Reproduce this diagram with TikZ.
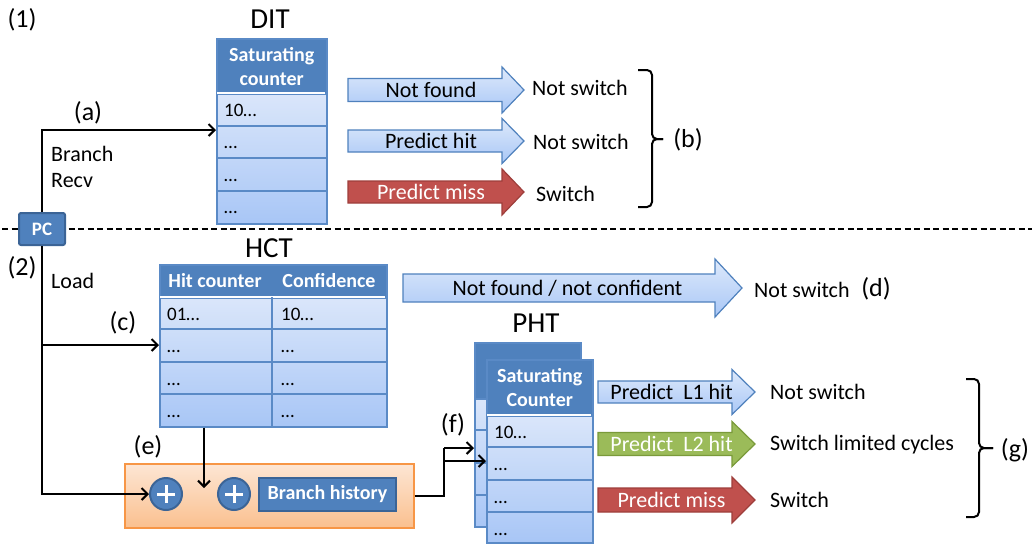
\documentclass[tikz,border=0pt]{standalone}
\usepackage{fontspec}
\setmainfont{Carlito}
\usetikzlibrary{arrows.meta}

\definecolor{hdrblue}{HTML}{4F81BD}
\definecolor{hdredge}{HTML}{3B6496}
\definecolor{tline}{HTML}{5A8AC6}
\definecolor{rowtop}{HTML}{DAE6FA}
\definecolor{rowbot}{HTML}{A8C6F6}
\definecolor{arrtop}{HTML}{DDE9FB}
\definecolor{arrbot}{HTML}{A9C7F6}
\definecolor{missred}{HTML}{C0504D}
\definecolor{missedge}{HTML}{9E3E3B}
\definecolor{hitgreen}{HTML}{9BBB59}
\definecolor{greenedge}{HTML}{7A9A3A}
\definecolor{orangeedge}{HTML}{F79646}
\definecolor{orangetop}{HTML}{FDE6D4}
\definecolor{orangebot}{HTML}{FAC08F}

\tikzset{
  txt/.style={font=\fontsize{22}{26}\selectfont, inner sep=0pt},
  lbl/.style={font=\fontsize{26}{30}\selectfont, inner sep=0pt},
  ttl/.style={font=\fontsize{29}{33}\selectfont, inner sep=0pt},
  hdrtxt/.style={font=\bfseries\fontsize{20}{24}\selectfont, text=white, align=center, inner sep=0pt},
  cell/.style={font=\fontsize{19}{21}\selectfont, anchor=base west, inner sep=0pt},
  headbox/.style={fill=hdrblue, draw=tline, line width=1.5pt, anchor=north west, inner sep=0pt,
    font=\bfseries\fontsize{20}{24}\selectfont, text=white, align=center},
  bodybox/.style={top color=rowtop, bottom color=rowbot, draw=tline, line width=1.5pt, anchor=north west, inner sep=0pt},
  sep/.style={draw=tline, line width=1.5pt},
  wire/.style={line width=2pt, -{Straight Barb[length=6pt,width=12pt]}},
  plainwire/.style={line width=2pt},
  bracket/.style={line width=2pt, rounded corners=5pt},
  bluearrow/.style={draw=hdrblue, line width=1.2pt, top color=arrtop, bottom color=arrbot},
  redarrow/.style={draw=missedge, line width=1.2pt, fill=missred},
  greenarrow/.style={draw=greenedge, line width=1.2pt, fill=hitgreen},
  plusnode/.style={circle, minimum size=32pt, inner sep=0pt, fill=hdrblue, draw=hdredge, line width=2pt,
    path picture={\draw[white, line width=3pt]
      ([xshift=-9pt]path picture bounding box.center) -- ([xshift=9pt]path picture bounding box.center)
      ([yshift=-9pt]path picture bounding box.center) -- ([yshift=9pt]path picture bounding box.center);}},
}

% block arrow: name, style, tail x, head base x, tip x, centre y, body half height, head half height
\newcommand\fatarrow[8]{%
  \path[#2] (#3,#6-#7) -- (#4,#6-#7) -- (#4,#6-#8) -- (#5,#6) -- (#4,#6+#8) -- (#4,#6+#7) -- (#3,#6+#7) -- cycle;
  \coordinate (#1) at ({(#3+#5)/2-5},#6);
}

\begin{document}
\begin{tikzpicture}[x=1pt, y=-1pt]
\useasboundingbox (0,0) rectangle (1032,544);

% ---------- section labels and separator ----------
\node[lbl] (l1) at (22,20) {(1)};
\node[lbl] (l2) at (22,268) {(2)};
\draw[line width=1.2pt, dash pattern=on 6pt off 3.5pt] (2,229) -- (1032,229);

% ---------- DIT ----------
\node[ttl] (dittitle) at (270,19) {DIT};
\node[headbox, minimum width=110pt, minimum height=55pt] (dithead) at (216,38) {Saturating\\counter};
\node[bodybox, minimum width=110pt, minimum height=130pt] (ditbody) at (216,93) {};
\draw[white, line width=1.5pt] (217,93) -- (325,93);
\foreach \y in {126,158,191} \draw[sep] (216,\y) -- (326,\y);
\node[cell] (dit1) at (224,116) {10…};
\node[cell] (dit2) at (224,148) {…};
\node[cell] (dit3) at (224,181) {…};
\node[cell] (dit4) at (224,213) {…};

% ---------- PC and the two paths ----------
\node[fill=hdrblue, draw=hdredge, line width=2pt, rounded corners=2pt, minimum width=46pt, minimum height=32pt,
      inner sep=0pt, text=white, font=\bfseries\fontsize{19}{21}\selectfont] (pc) at (42,229) {PC};
\coordinate (aTurn) at (42,130);
\draw[wire] (pc.north) -- (aTurn) -- (aTurn -| ditbody.west);
\node[lbl] (la) at (88,113) {(a)};
\node[txt, anchor=north west, align=left] (recv) at (51,146) {Branch\\Recv};
\node[txt, anchor=west] (load) at (51,281) {Load};

% ---------- DIT outcomes ----------
\fatarrow{aNF}{bluearrow}{348}{502}{524}{90}{11.5}{23}
\fatarrow{aPH}{bluearrow}{348}{502}{524}{141}{11}{22.5}
\fatarrow{aPM}{redarrow}{348}{502}{524}{192}{11}{23}
\node[txt] (tNF) at (aNF) {Not found};
\node[txt] (tPH) at (aPH) {Predict hit};
\node[txt, text=white] (tPM) at (aPM) {Predict miss};
\node[txt, anchor=west] (oNF) at (532,88) {Not switch};
\node[txt, anchor=west] (oPH) at (533,142) {Not switch};
\node[txt, anchor=west] (oPM) at (536,194) {Switch};
\draw[bracket] (638,70) -- (652,70) -- (652,139) -- (663,139);
\draw[bracket] (663,139) -- (652,139) -- (652,207) -- (638,207);
\node[lbl] (lb) at (688,140) {(b)};

% ---------- HCT ----------
\node[ttl] (hcttitle) at (269,248) {HCT};
\node[headbox, minimum width=227pt, minimum height=33pt] (hcthead) at (159,264) {};
\node[hdrtxt] (hcth1) at (215,281) {Hit counter};
\node[hdrtxt] (hcth2) at (329,281) {Confidence};
\node[bodybox, minimum width=227pt, minimum height=129pt] (hctbody) at (159,297) {};
\draw[white, line width=1.5pt] (160,297) -- (385,297);
\foreach \y in {329,362,394} \draw[sep] (159,\y) -- (386,\y);
\draw[sep] (272,297) -- (272,426);
\node[cell] (hc1) at (167,320) {01…};
\node[cell] (hf1) at (281,320) {10…};
\foreach \y/\n in {352/2,385/3,417/4} {
  \node[cell] (hc\n) at (167,\y) {…};
  \node[cell] (hf\n) at (281,\y) {…};
}
\coordinate (cSplit) at (42,345);
\draw[wire] (cSplit) -- (cSplit -| hctbody.west);
\node[lbl] (lc) at (123,323) {(c)};

% ---------- not found / not confident ----------
\fatarrow{aNC}{bluearrow}{403}{715}{742}{288}{14}{29}
\node[txt] (tNC) at (aNC) {Not found / not confident};
\node[txt, anchor=west] (oNC) at (754,290) {Not switch};
\node[lbl] (ld) at (876,289) {(d)};

% ---------- index hashing ----------
\node[top color=orangetop, bottom color=orangebot, draw=orangeedge, line width=1.5pt,
      minimum width=289pt, minimum height=64pt, inner sep=0pt, anchor=north west] (hash) at (124,463) {};
\node[plusnode] (plus1) at (166,494) {};
\node[plusnode] (plus2) at (234,494) {};
\node[fill=hdrblue, draw=hdredge, line width=2.5pt, minimum width=137pt, minimum height=33pt, inner sep=0pt,
      text=white, font=\bfseries\fontsize{20}{24}\selectfont] (bhist) at (327.5,494.5) {Branch history};
\node[lbl] (le) at (148,447) {(e)};
\draw[wire] (pc.south) |- (plus1.west);
\coordinate (eDrop) at (204,488);
\draw[wire] (hctbody.south -| eDrop) -- (eDrop);

% ---------- PHT ----------
\node[ttl] (phttitle) at (536,323) {PHT};
\node[headbox, minimum width=106pt, minimum height=56pt] (phtbackhead) at (474,342) {};
\node[bodybox, minimum width=106pt, minimum height=128pt] (phtbackbody) at (474,398) {};
\foreach \y in {430,463,495} \draw[sep] (474,\y) -- (580,\y);
\node[headbox, minimum width=106pt, minimum height=56pt] (phthead) at (486,359) {Saturating\\Counter};
\node[bodybox, minimum width=106pt, minimum height=127pt] (phtbody) at (486,415) {};
\draw[white, line width=1.5pt] (487,415) -- (591,415);
\foreach \y in {447,480,512} \draw[sep] (486,\y) -- (592,\y);
\node[cell] (ph1) at (494,438) {10…};
\node[cell] (ph2) at (494,470) {…};
\node[cell] (ph3) at (494,503) {…};
\node[cell] (ph4) at (494,535) {…};

\coordinate (fUp) at (444,448);
\coordinate (fSplit) at (444,461);
\draw[plainwire] (hash.east) -| (fUp);
\draw[wire] (fUp) -- (fUp -| phtbackbody.west);
\draw[wire] (fSplit) -- (fSplit -| phtbody.west);
\node[lbl] (lf) at (453,425) {(f)};

% ---------- PHT outcomes ----------
\fatarrow{aL1}{bluearrow}{598}{732}{755}{392}{11}{22.5}
\fatarrow{aL2}{greenarrow}{598}{732}{755}{444}{11.5}{22.5}
\fatarrow{aMS}{redarrow}{598}{732}{755}{500}{12}{23}
\node[txt] (tL1) at (aL1) {Predict~~L1 hit};
\node[txt, text=white] (tL2) at (aL2) {Predict~~L2 hit};
\node[txt, text=white] (tMS) at (aMS) {Predict miss};
\node[txt, anchor=west] (oL1) at (770,392) {Not switch};
\node[txt, anchor=west] (oL2) at (770,445) {Switch limited cycles};
\node[txt, anchor=west] (oMS) at (770,500) {Switch};
\draw[bracket] (966,379) -- (979,379) -- (979,448) -- (993,448);
\draw[bracket] (993,448) -- (979,448) -- (979,517) -- (966,517);
\node[lbl] (lg) at (1015,450) {(g)};
\end{tikzpicture}
\end{document}
